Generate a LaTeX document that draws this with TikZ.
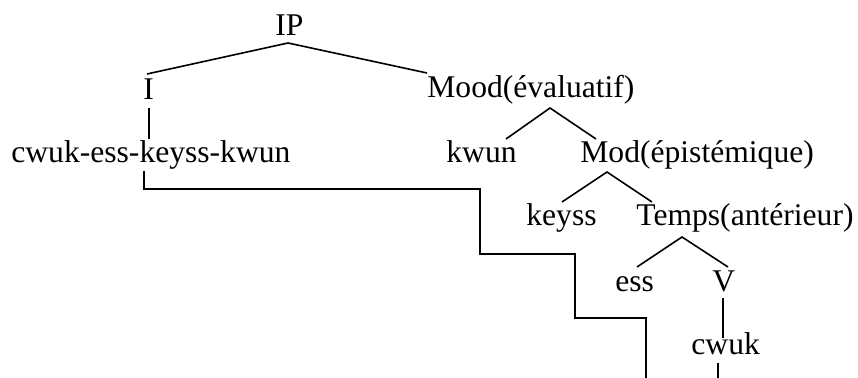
\documentclass[tikz,border=0pt]{standalone}
\usepackage{fontspec}
\setmainfont{Liberation Serif}
\begin{document}
\begin{tikzpicture}[x=0.5pt,y=-0.5pt,
  lbl/.style={inner sep=0pt,anchor=base west,font=\fontsize{15.8}{18}\selectfont},
  branch/.style={line width=0.8pt,line cap=butt}]
\useasboundingbox (0,0) rectangle (858,378);
% text nodes
\node[lbl] (IP) at (275,36) {IP};
\node[lbl] (I) at (143,100) {I};
\node[lbl] (Mood) at (427,98) {Mood(évaluatif)};
\node[lbl] (cek) at (11,163) {cwuk-ess-keyss-kwun};
\node[lbl] (kwun) at (446,163) {kwun};
\node[lbl] (Mod) at (580,163) {Mod(épistémique)};
\node[lbl] (keyss) at (526,226) {keyss};
\node[lbl] (Temps) at (636,226) {Temps(antérieur)};
\node[lbl] (ess) at (615,292) {ess};
\node[lbl] (V) at (712,292) {V};
\node[lbl] (cwuk) at (691,355) {cwuk};
% branch points
\coordinate (IPb) at (288,43);
\coordinate (It) at (147,74);
\coordinate (Moodt) at (427,73);
\coordinate (Ib) at (149,108);
\coordinate (cekt) at (149,139);
\coordinate (Moodb) at (550,108);
\coordinate (kwunt) at (506,139);
\coordinate (Modt) at (596,139);
\coordinate (Modb) at (607,172);
\coordinate (keysst) at (562,202);
\coordinate (Tempst) at (652,202);
\coordinate (Tempsb) at (682,237);
\coordinate (esst) at (637,267);
\coordinate (Vt) at (728,267);
\coordinate (Vb) at (723,298);
\coordinate (cwukt) at (723,338);
\coordinate (cwukb) at (718,363);
\coordinate (cwukend) at (718,378);
\coordinate (cekb) at (144,171);
\coordinate (s1) at (144,189);
\coordinate (s2) at (480,189);
\coordinate (s3) at (480,254);
\coordinate (s4) at (575,254);
\coordinate (s5) at (575,318);
\coordinate (s6) at (646,318);
\coordinate (s7) at (646,378);
% branches
\draw[branch] (It) -- (IPb) -- (Moodt);
\draw[branch] (Ib) -- (cekt);
\draw[branch] (kwunt) -- (Moodb) -- (Modt);
\draw[branch] (keysst) -- (Modb) -- (Tempst);
\draw[branch] (esst) -- (Tempsb) -- (Vt);
\draw[branch] (Vb) -- (cwukt);
\draw[branch] (cwukb) -- (cwukend);
\draw[branch] (cekb) -- (s1) -- (s2) -- (s3) -- (s4) -- (s5) -- (s6) -- (s7);
\end{tikzpicture}
\end{document}
